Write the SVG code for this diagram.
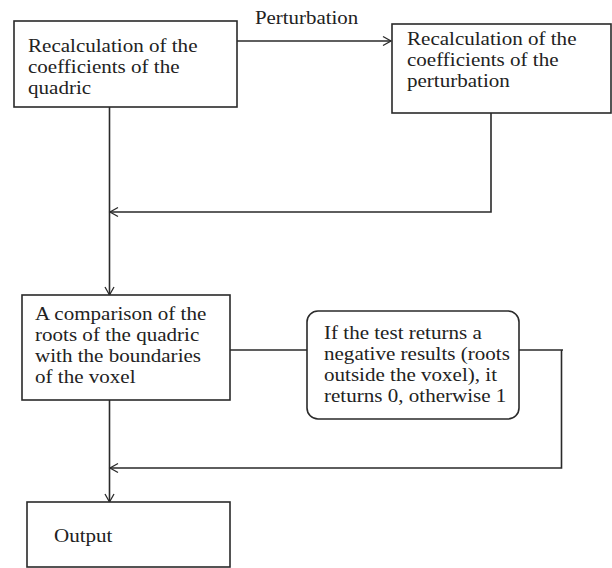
<svg xmlns="http://www.w3.org/2000/svg" width="612" height="568" viewBox="0 0 612 568">
<defs>
<style>
.box{fill:#fff;stroke:#2a2a2a;stroke-width:1.6}
.ln{fill:none;stroke:#2a2a2a;stroke-width:1.6}
.ah{fill:none;stroke:#2a2a2a;stroke-width:1.3}
text{font-family:"Liberation Serif","Times New Roman",serif;font-size:18px;fill:#222}
</style>
</defs>
<rect width="612" height="568" fill="#fff"/>
<g id="connectors">
<path class="ln" d="M237,41 H391"/>
<path class="ah" d="M383,36.5 L391,41 L383,45.5"/>
<path class="ln" d="M109.5,107 V295"/>
<path class="ah" d="M105,287 L109.5,295 L114,287"/>
<path class="ln" d="M491,113 V212 H110"/>
<path class="ah" d="M118,207.5 L110,212 L118,216.5"/>
<path class="ln" d="M230,350 H307"/>
<path class="ln" d="M519,350 H563 M561.5,349.5 V468 H110"/>
<path class="ah" d="M118,463.5 L110,468 L118,472.5"/>
<path class="ln" d="M109.5,400 V502"/>
<path class="ah" d="M105,494 L109.5,502 L114,494"/>
</g>
<g id="label-perturbation" transform="translate(255,0) scale(1.16,1)"><text x="0" y="24">Perturbation</text></g>
<g id="n1">
<rect class="box" x="14" y="21" width="223" height="86"/>
<g transform="translate(28,0) scale(1.17,1)">
<text x="0" y="52">Recalculation of the</text>
<text x="0" y="73">coefficients of the</text>
<text x="0" y="94">quadric</text>
</g>
</g>
<g id="n2">
<rect class="box" x="392" y="24" width="219" height="89"/>
<g transform="translate(407,0) scale(1.17,1)">
<text x="0" y="45">Recalculation of the</text>
<text x="0" y="66">coefficients of the</text>
<text x="0" y="87">perturbation</text>
</g>
</g>
<g id="n3">
<rect class="box" x="22" y="295" width="208" height="105"/>
<g transform="translate(35,0) scale(1.17,1)">
<text x="0" y="320">A comparison of the</text>
<text x="0" y="341">roots of the quadric</text>
<text x="0" y="362">with the boundaries</text>
<text x="0" y="383">of the voxel</text>
</g>
</g>
<g id="n4">
<rect class="box" x="307" y="311" width="212" height="108" rx="11" ry="11"/>
<g transform="translate(324,0) scale(1.17,1)">
<text x="0" y="339">If the test returns a</text>
<text x="0" y="360">negative results (roots</text>
<text x="0" y="381">outside the voxel), it</text>
<text x="0" y="402">returns 0, otherwise 1</text>
</g>
</g>
<g id="n5">
<rect class="box" x="27" y="502" width="203" height="65"/>
<g transform="translate(54,0) scale(1.17,1)">
<text x="0" y="542">Output</text>
</g>
</g>
</svg>
